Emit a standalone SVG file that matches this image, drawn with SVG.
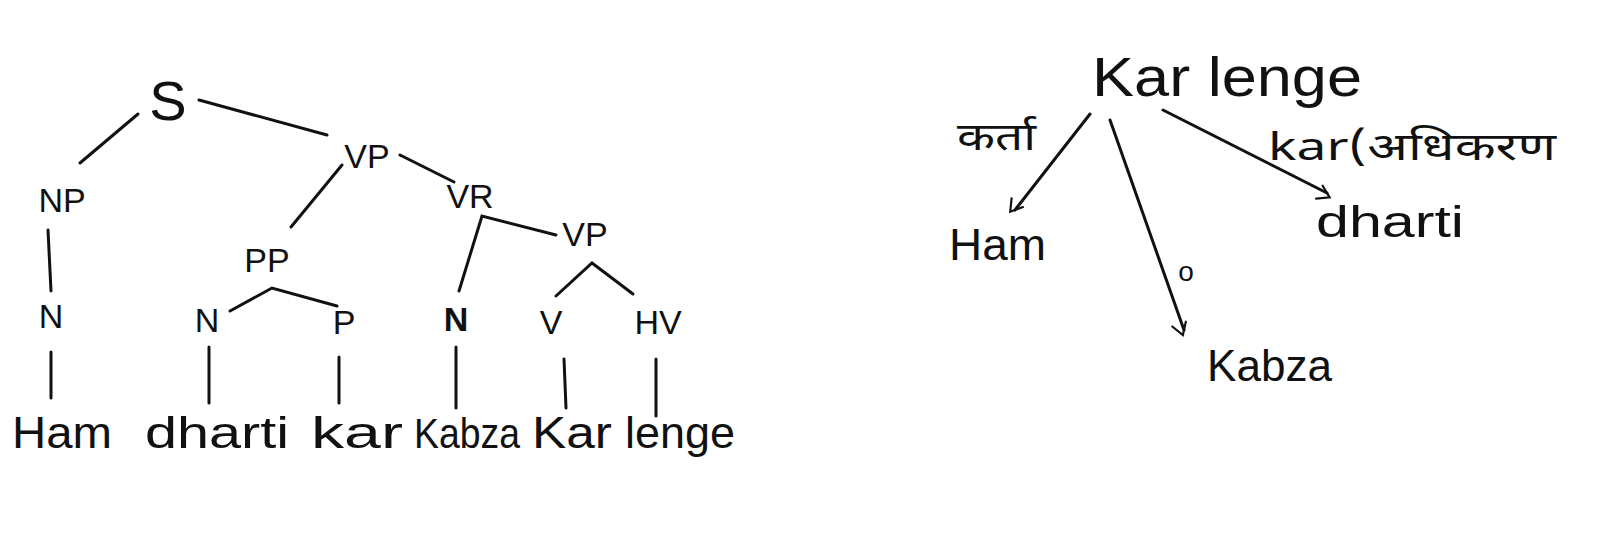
<svg xmlns="http://www.w3.org/2000/svg" width="1600" height="551" viewBox="0 0 1600 551">
<style>
.bg{fill:#fff}
.lbl{font-family:"Liberation Sans","DejaVu Sans",sans-serif;fill:#111;text-anchor:middle}
.w{font-family:"Liberation Sans","DejaVu Sans",sans-serif;fill:#111;text-anchor:start}
.cat{font-size:34px}
.word{font-size:44px}
.big{font-size:56px}
.hi{font-family:"Noto Sans Devanagari","Noto Sans","Liberation Sans",sans-serif;font-size:38px;fill:#111}
.ln{stroke:#111;stroke-width:3;fill:none;stroke-linecap:round}
.arr{stroke:#111;stroke-width:3;fill:none;stroke-linecap:round;marker-end:url(#ah)}
</style>
<defs>
<marker id="ah" viewBox="0 0 20 20" refX="16" refY="10" markerWidth="9" markerHeight="9" markerUnits="userSpaceOnUse" orient="auto" overflow="visible">
<path d="M0,0 L16,10 L0,20" fill="none" stroke="#111" stroke-width="3" stroke-linecap="round" transform="scale(1.6)"/>
</marker>
</defs>
<rect class="bg" x="0" y="0" width="1600" height="551"/>

<g id="connectors">
<line class="ln" x1="138" y1="114" x2="80" y2="163"/>
<line class="ln" x1="199" y1="100" x2="327" y2="135"/>
<line class="ln" x1="48" y1="230" x2="51" y2="291"/>
<line class="ln" x1="51" y1="352" x2="51" y2="398"/>
<line class="ln" x1="342" y1="165" x2="291" y2="227"/>
<line class="ln" x1="400" y1="155" x2="454" y2="182"/>
<polyline class="ln" points="230,311 272,288 337,306"/>
<line class="ln" x1="209" y1="347" x2="209" y2="403"/>
<line class="ln" x1="339" y1="357" x2="339" y2="403"/>
<polyline class="ln" points="459,291 482,216 556,235"/>
<polyline class="ln" points="556,296 592,263 633,294"/>
<line class="ln" x1="456" y1="347" x2="456" y2="408"/>
<line class="ln" x1="564" y1="359" x2="566" y2="408"/>
<line class="ln" x1="656" y1="359" x2="656" y2="416"/>
<line class="arr" x1="1090" y1="114" x2="1015" y2="210"/>
<line class="arr" x1="1110" y1="120" x2="1184" y2="330"/>
<line class="arr" x1="1163" y1="110" x2="1327" y2="193"/>
</g>

<g id="n-S"><text class="lbl big" x="168" y="120">S</text></g>
<g id="n-NP"><text class="lbl cat" x="62" y="212">NP</text></g>
<g id="n-N1"><text class="lbl cat" x="51" y="328">N</text></g>
<g id="n-VP1"><text class="lbl cat" x="367" y="168">VP</text></g>
<g id="n-PP"><text class="lbl cat" x="267" y="272">PP</text></g>
<g id="n-VR"><text class="lbl cat" x="470" y="208">VR</text></g>
<g id="n-VP2"><text class="lbl cat" x="585" y="246">VP</text></g>
<g id="n-N2"><text class="lbl cat" x="207" y="332">N</text></g>
<g id="n-P"><text class="lbl cat" x="344" y="334">P</text></g>
<g id="n-N3"><text class="lbl cat" x="456" y="331" font-weight="bold">N</text></g>
<g id="n-V"><text class="lbl cat" x="551" y="334">V</text></g>
<g id="n-HV"><text class="lbl cat" x="658" y="334">HV</text></g>

<g id="w-Ham"><text class="w word" x="12" y="448" textLength="100" lengthAdjust="spacingAndGlyphs">Ham</text></g>
<g id="w-dharti"><text class="w word" x="145" y="448" textLength="144" lengthAdjust="spacingAndGlyphs">dharti</text></g>
<g id="w-kar"><text class="w word" x="311" y="448" textLength="92" lengthAdjust="spacingAndGlyphs">kar</text></g>
<g id="w-Kabza"><text class="w" font-size="42" x="414" y="448" textLength="106" lengthAdjust="spacingAndGlyphs">Kabza</text></g>
<g id="w-Kar"><text class="w word" x="532" y="448" textLength="80" lengthAdjust="spacingAndGlyphs">Kar</text></g>
<g id="w-lenge"><text class="w word" x="625" y="448" textLength="110" lengthAdjust="spacingAndGlyphs">lenge</text></g>

<g id="r-root"><text class="w big" x="1092" y="96" textLength="270" lengthAdjust="spacingAndGlyphs">Kar lenge</text></g>
<g id="r-Ham"><text class="w word" x="949" y="260" textLength="97" lengthAdjust="spacingAndGlyphs">Ham</text></g>
<g id="r-Kabza"><text class="w word" x="1207" y="381" textLength="125" lengthAdjust="spacingAndGlyphs">Kabza</text></g>
<g id="r-dharti"><text class="w word" x="1316" y="237" textLength="148" lengthAdjust="spacingAndGlyphs">dharti</text></g>
<g id="e-karta"><text class="hi" x="957" y="150" textLength="79" lengthAdjust="spacingAndGlyphs">कर्ता</text></g>
<g id="e-o"><text class="lbl" font-size="28" x="1186" y="281">o</text></g>
<g id="e-kar"><text class="hi" x="1268" y="160" textLength="288" lengthAdjust="spacingAndGlyphs">kar(अधिकरण</text></g>
</svg>
